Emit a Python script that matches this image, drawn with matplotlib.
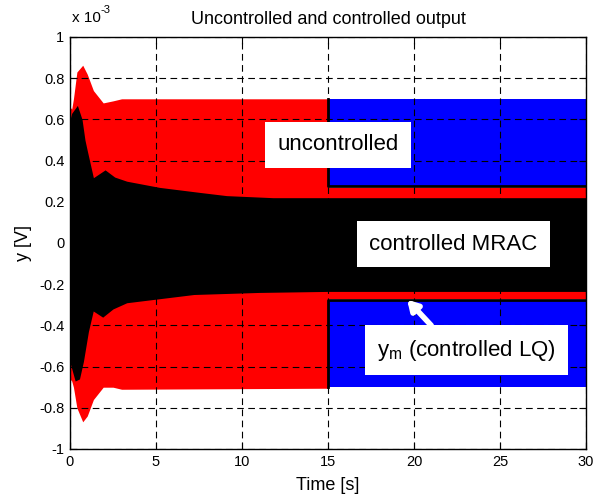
import matplotlib
matplotlib.use("Agg")
import matplotlib.pyplot as plt
import numpy as np

plt.rcParams['font.family'] = ['Liberation Sans', 'DejaVu Sans']
plt.rcParams['mathtext.fontset'] = 'custom'
plt.rcParams['mathtext.rm'] = 'Liberation Sans'
plt.rcParams['mathtext.it'] = 'Liberation Sans'

# ---- data (values in units of 1e-3 V) ----
t_unc = [0, 0.1, 0.2, 0.4, 0.74, 1.0, 1.36, 1.93, 2.5, 3.0, 15]
unc_up = [0.66, 0.65, 0.70, 0.83, 0.863, 0.82, 0.74, 0.68, 0.69, 0.70, 0.70]
unc_lo = [-0.66, -0.67, -0.70, -0.80, -0.868, -0.84, -0.76, -0.70, -0.70, -0.71, -0.705]

t_lq = [15, 30]
lq_up = [0.268, 0.268]
lq_lo = [-0.272, -0.272]

t_blue = [15, 30]
blue_up = [0.70, 0.70]
blue_lo = [-0.70, -0.70]

t_mrac = [0, 0.1, 0.43, 0.7, 0.87, 1.0, 1.36, 2.04, 2.6, 3.3, 5.2, 7.6, 9.1, 11.8, 15, 30]
mrac_up = [0.60, 0.63, 0.668, 0.60, 0.50, 0.45, 0.317, 0.355, 0.32, 0.30, 0.27, 0.245, 0.23, 0.22, 0.22, 0.22]
t_mrac_lo = [0, 0.3, 0.55, 0.78, 1.07, 1.35, 1.9, 2.5, 3.3, 7.2, 11, 15, 30]
mrac_lo = [-0.58, -0.67, -0.66, -0.575, -0.43, -0.33, -0.36, -0.32, -0.29, -0.25, -0.24, -0.235, -0.235]

xticks = [0, 5, 10, 15, 20, 25, 30]
yticks = [-1, -0.8, -0.6, -0.4, -0.2, 0, 0.2, 0.4, 0.6, 0.8, 1]
ytick_labels = ['-1', '-0.8', '-0.6', '-0.4', '-0.2', '0', '0.2', '0.4', '0.6', '0.8', '1']

fig = plt.figure(figsize=(5.97, 4.96), dpi=100)
ax = fig.add_axes([70/597, 47/496, 516/597, 412/496])

# uncontrolled (red), 0-15 s
ax.fill_between(t_unc, unc_lo, unc_up, color='#ff0000', lw=0, zorder=2)
# controlled LQ (red band), 15-30 s
ax.fill_between(t_lq, lq_lo, lq_up, color='#ff0000', lw=0, zorder=2)
# uncontrolled continuation (blue), 15-30 s
ax.fill_between(t_blue, blue_up, [0.278, 0.278], color='#0000ff', lw=0, zorder=2)
ax.fill_between(t_blue, [-0.278, -0.278], blue_lo, color='#0000ff', lw=0, zorder=2)
# black edges of blue region
ax.plot([15, 15, 30], [blue_up[0], 0.275, 0.275], color='black', lw=2, zorder=3)
ax.plot([15, 15, 30], [blue_lo[0], -0.276, -0.276], color='black', lw=2, zorder=3)
# controlled MRAC (black)
t_all = np.union1d(t_mrac, t_mrac_lo)
up_i = np.interp(t_all, t_mrac, mrac_up)
lo_i = np.interp(t_all, t_mrac_lo, mrac_lo)
ax.fill_between(t_all, lo_i, up_i, color='black', lw=0, zorder=4)

ax.set_xlim(0, 30)
ax.set_ylim(-1, 1)
ax.set_xticks(xticks)
ax.set_yticks(yticks)
ax.set_yticklabels(ytick_labels)
ax.tick_params(direction='in', top=True, right=True, length=5, labelsize=10.5, pad=4)
ax.grid(True, color='black', linestyle=(0, (6, 4)), linewidth=0.8, zorder=1)
ax.set_axisbelow(False)
for s in ax.spines.values():
    s.set_linewidth(1.0)
    s.set_zorder(6)

ax.set_title('Uncontrolled and controlled output', fontsize=13, pad=9)
ax.set_xlabel('Time [s]', fontsize=13, labelpad=6)
ax.set_ylabel('y [V]', fontsize=13, labelpad=5)

fig.text(72/597, 1 - 22/496, 'x 10', fontsize=11, ha='left', va='baseline')
fig.text(100/597, 1 - 13/496, '-3', fontsize=8, ha='left', va='baseline')

box = dict(facecolor='white', edgecolor='none', boxstyle='square,pad=0.55')
ax.text(15.6, 0.476, 'uncontrolled', fontsize=16, ha='center', va='center', bbox=box, zorder=8)
ax.text(22.3, -0.005, 'controlled MRAC', fontsize=16, ha='center', va='center', bbox=box, zorder=8)
ax.text(23.07, -0.52, r'y$_\mathrm{m}$ (controlled LQ)', fontsize=16, ha='center', va='center', bbox=box, zorder=8)

ax.annotate('', xy=(19.6, -0.275), xytext=(21.0, -0.40),
            arrowprops=dict(arrowstyle='-|>,head_length=0.6,head_width=0.35', color='white', lw=4,
                            shrinkA=0, shrinkB=0),
            zorder=8)

fig.savefig('out.png', dpi=100)
